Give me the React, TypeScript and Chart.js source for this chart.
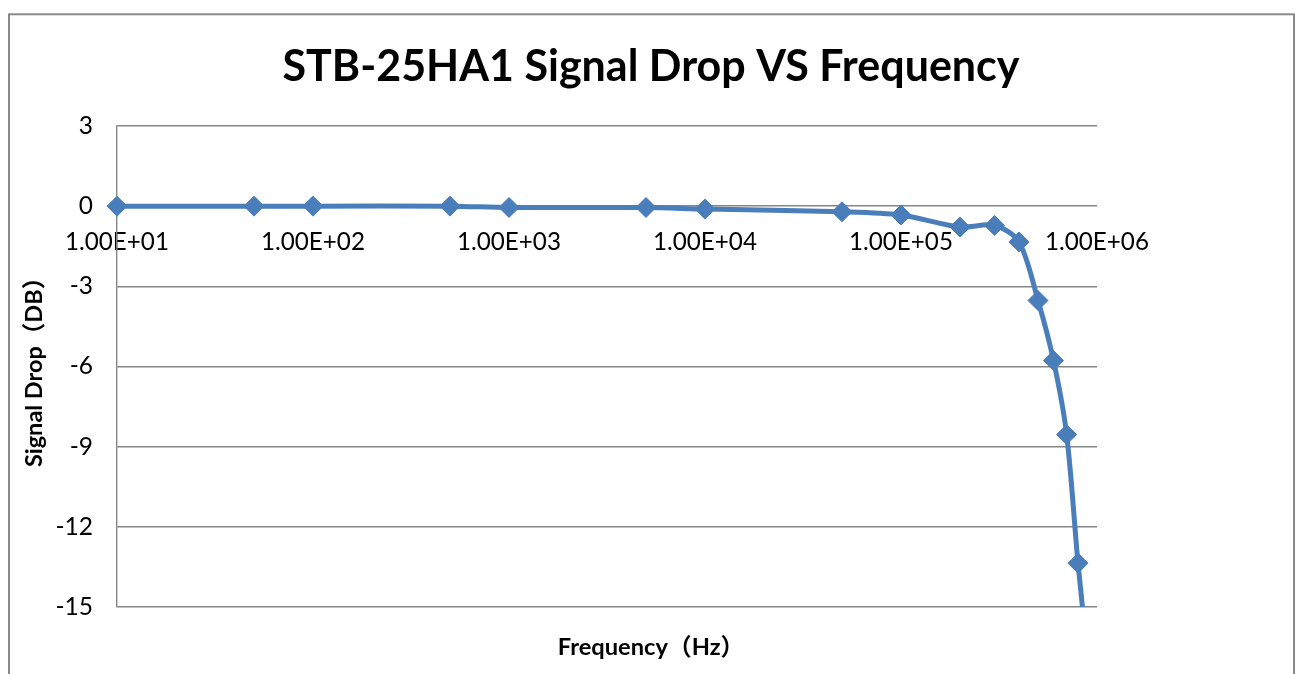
import React, { useEffect, useRef } from "react";
import { Chart, registerables } from "chart.js";

Chart.register(...registerables);

const frequencies = [10, 50, 100, 500, 1000, 5000, 10000, 50000, 100000, 200000, 300000, 400000, 500000, 600000, 700000, 800000, 900000];
const signalDrop = [0, 0, 0, 0, -0.05, -0.05, -0.11, -0.21, -0.33, -0.78, -0.72, -1.34, -3.53, -5.78, -8.55, -13.36, -17.0];
const xTickValues = [10, 100, 1000, 10000, 100000, 1000000];
const yMin = -15;
const yMax = 3;
const yStep = 3;

const TITLE = "STB-25HA1 Signal Drop VS Frequency";
const X_TITLE = "Frequency（Hz）";
const Y_TITLE = "Signal Drop（DB）";

const FONT = "Lato, 'Noto Sans CJK SC', sans-serif";
const GRID = "#868686";
const LINE = "#4A7EBB";

function fmtSci(v: number): string {
  const e = Math.floor(Math.log10(v) + 1e-9);
  const m = v / Math.pow(10, e);
  return m.toFixed(2) + "E" + (e >= 0 ? "+" : "-") + String(Math.abs(e)).padStart(2, "0");
}

const frame = {
  id: "frame",
  beforeDraw(chart: any) {
    const ctx = chart.ctx;
    ctx.save();
    ctx.fillStyle = "#ffffff";
    ctx.fillRect(0, 0, chart.width, chart.height);
    ctx.strokeStyle = "#8a8a8a";
    ctx.lineWidth = 2;
    ctx.strokeRect(9, 14.3, 1285, 800);
    ctx.restore();
  },
};

export default function App() {
  const ref = useRef<HTMLCanvasElement | null>(null);
  useEffect(() => {
    document.body.style.margin = "0";
    const chart = new Chart(ref.current as HTMLCanvasElement, {
      type: "line",
      data: {
        datasets: [
          {
            data: frequencies.map((f, i) => ({ x: f, y: signalDrop[i] })),
            borderColor: LINE,
            backgroundColor: LINE,
            borderWidth: 5,
            pointStyle: "rectRot",
            pointRadius: 10,
            pointHoverRadius: 10,
            pointBackgroundColor: LINE,
            pointBorderColor: LINE,
            pointBorderWidth: 1,
            tension: 0.3,
            clip: { left: 14, top: 14, right: 14, bottom: 0 } as any,
          },
        ],
      },
      options: {
        animation: false,
        responsive: false,
        layout: { padding: { left: 7, right: 0, top: 0, bottom: 0 } },
        plugins: {
          legend: { display: false },
          tooltip: { enabled: false },
          title: {
            display: true,
            text: TITLE,
            color: "#000",
            font: { family: FONT, size: 43, weight: "bold" },
            padding: { top: 41.2, bottom: 33.2 },
          },
          subtitle: {
            display: true,
            text: X_TITLE,
            position: "bottom",
            color: "#000",
            font: { family: FONT, size: 23.7, weight: "bold" },
            padding: { top: 25.8, bottom: 12.8 },
          },
        },
        scales: {
          x: {
            type: "logarithmic",
            min: xTickValues[0],
            max: xTickValues[xTickValues.length - 1],
            position: { y: 0 } as any,
            grid: { display: false, drawTicks: false },
            border: { display: false },
            ticks: {
              color: "#000",
              font: { family: FONT, size: 24.2 },
              padding: 22,
              maxRotation: 0,
              autoSkip: false,
              callback: (v: any) => fmtSci(Number(v)),
            },
            afterBuildTicks: (s: any) => {
              s.ticks = xTickValues.map((v) => ({ value: v }));
            },
          },
          y: {
            min: yMin,
            max: yMax,
            grid: { color: GRID, lineWidth: 1.4, drawTicks: false },
            border: { color: GRID, width: 1.4 },
            ticks: {
              stepSize: yStep,
              color: "#000",
              font: { family: FONT, size: 24.5 },
              padding: 24,
            },
            title: {
              display: true,
              text: Y_TITLE,
              color: "#000",
              font: { family: FONT, size: 23.5, weight: "bold" },
              padding: { top: 13, bottom: 0 },
            },
            afterFit: (s: any) => {
              s.width = 110;
            },
          },
          spacer: {
            type: "linear",
            position: "right",
            display: true,
            grid: { display: false, drawTicks: false },
            border: { display: false },
            ticks: { display: false },
            afterFit: (s: any) => {
              s.width = 198;
            },
          },
        },
      } as any,
      plugins: [frame],
    });
    return () => chart.destroy();
  }, []);
  return (
    <div style={{ position: "absolute", left: 0, top: 0, width: 1295, height: 674 }}>
      <canvas ref={ref} width={1295} height={674} style={{ display: "block" }} />
    </div>
  );
}
